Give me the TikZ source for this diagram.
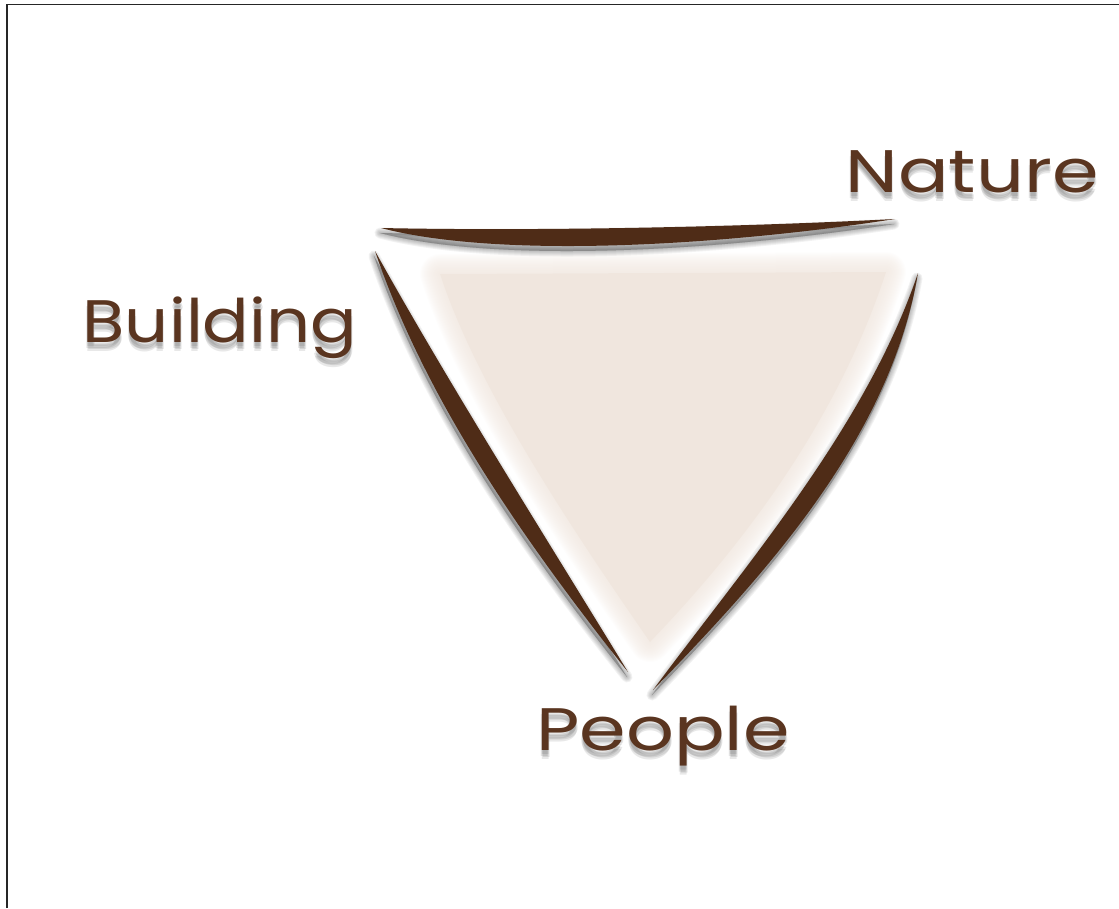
\documentclass[tikz,border=0pt]{standalone}
\usepackage{fontspec}
\setmainfont{Poppins}
\definecolor{strokebrown}{HTML}{4F2C17}
\definecolor{labelbrown}{HTML}{5A3520}
\definecolor{trifill}{HTML}{F0E6DE}
\tikzset{
	label text/.style={anchor=base, inner sep=0pt, text=labelbrown, font=\fontsize{60}{60}\selectfont},
	label shadow/.style={label text, text=black, text opacity=0.09},
	shadow copy/.style={draw=black, fill=black, opacity=0.05, line join=round},
	feather/.style={draw=trifill, opacity=0.07, line join=round}
}
\def\topstroke{(381,228) .. controls (520,231) and (720,228) .. (895,219) .. controls (720,246) and (500,259) .. (381,228) -- cycle}
\def\leftstroke{(375,251) .. controls (425,398.1) and (521,537.4) .. (628,672) .. controls (539,526.6) and (449,383.9) .. (375,251) -- cycle}
\def\rightstroke{(918,273) .. controls (889.6,439.9) and (764,575.4) .. (653,690) .. controls (746,564.6) and (866.4,426.1) .. (918,273) -- cycle}
\def\trishape{(440,274) -- (886,272) .. controls (834,432) and (729,560) .. (650,642) .. controls (564,518) and (476,384) .. (440,274) -- cycle}
\begin{document}
\begin{tikzpicture}[x=1pt,y=-1pt]
	\useasboundingbox (0,0) rectangle (1119,908);
	\draw[line width=1.3pt, black!85] (7,908) -- (7,4.5) -- (1119,4.5); % frame
	% soft triangle
	\foreach \w in {2,4,...,40}
	\draw[feather, line width=\w pt] \trishape;
	\fill[trifill] \trishape;
	% blurred shadows of the three strokes
	\begin{scope}[shift={(-1,5)}]
		\foreach \w in {1,3,...,11}
		{
			\draw[shadow copy, line width=\w pt] \topstroke;
			\draw[shadow copy, line width=\w pt] \leftstroke;
			\draw[shadow copy, line width=\w pt] \rightstroke;
		}
	\end{scope}
	\fill[strokebrown] \topstroke;
	\fill[strokebrown] \leftstroke;
	\fill[strokebrown] \rightstroke;
	% labels
	\foreach \lbl/\txt/\px/\py/\sx in {nature/Nature/972/192/1.25, building/Building/220/342/1.15, people/People/663/750/1.25}
	{
		\foreach \dx/\dy in {0/4, -1/6, 1/7, 0/9}
		\node[label shadow] (\lbl-shadow) at (\px+\dx,\py+\dy) {\scalebox{\sx}[1]{\txt}};
		\node[label text] (\lbl) at (\px,\py) {\scalebox{\sx}[1]{\txt}};
	}
\end{tikzpicture}
\end{document}
